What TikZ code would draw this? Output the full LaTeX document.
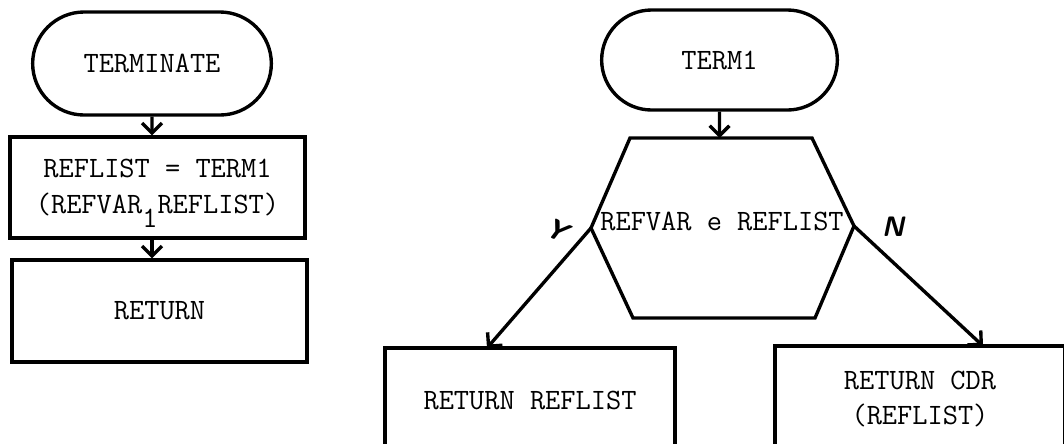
\documentclass[tikz,border=0pt]{standalone}
\usetikzlibrary{shapes.misc,arrows.meta}
\begin{document}
\begin{tikzpicture}[x=0.025cm,y=-0.025cm,
  every node/.style={font=\fontsize{21}{25}\selectfont\ttfamily},
  flow/.style={line width=2.4pt},
  term/.style={draw,flow,rounded rectangle,minimum width=6.2cm,minimum height=2.575cm},
  proc/.style={draw,flow,rectangle,align=center},
  fleche/.style={flow,-{Straight Barb[length=7pt,width=14pt]}},
  yn/.style={font=\fontsize{20}{24}\selectfont\sffamily\bfseries\itshape}]

\clip (0,0) rectangle (1064,443);

% TERMINATE
\node[term] (terminate) at (152,63.5) {TERMINATE};
\node[proc,minimum width=7.375cm,minimum height=2.525cm] (reflist) at (157.5,187.5)
  {REFLIST = TERM1\\(REFVAR\raisebox{-10pt}[0pt][0pt]{1}REFLIST)};
\node[proc,minimum width=7.375cm,minimum height=2.55cm] (return) at (159.5,311) {RETURN};

\draw[fleche] (terminate) -- (terminate |- reflist.north);
\draw[fleche] (reflist.south -| terminate) -- (terminate |- return.north);

% TERM1
\node[term,minimum width=6.125cm,minimum height=2.5cm] (term1) at (719.5,60) {TERM1};

% test REFVAR e REFLIST
\coordinate (hexnw) at (630,138);
\coordinate (hexne) at (812,138);
\coordinate (hexe) at (854,226);
\coordinate (hexse) at (815,318);
\coordinate (hexsw) at (633,318);
\coordinate (hexw) at (591,228);
\draw[flow] (hexnw) -- (hexne) -- (hexe) -- (hexse) -- (hexsw) -- (hexw) -- cycle;
\node (test) at (722,221) {REFVAR e REFLIST};

\draw[fleche] (term1) -- (term1 |- hexnw);

% Y / N (bas des cadres hors page)
\node[proc,minimum width=7.25cm,minimum height=2.6cm] (retlist) at (530,400) {RETURN REFLIST};
\node[proc,minimum width=7.25cm,minimum height=2.65cm] (retcdr) at (920,399) {RETURN CDR\\(REFLIST)};

\coordinate (yend) at (487,348);
\coordinate (nend) at (983,346);
\draw[fleche] (hexw) -- (yend);
\draw[fleche] (hexe) -- (nend);

\node[yn,rotate=-25] (ylab) at (557,230) {Y};
\node[yn] (nlab) at (893,227) {N};

\end{tikzpicture}
\end{document}
